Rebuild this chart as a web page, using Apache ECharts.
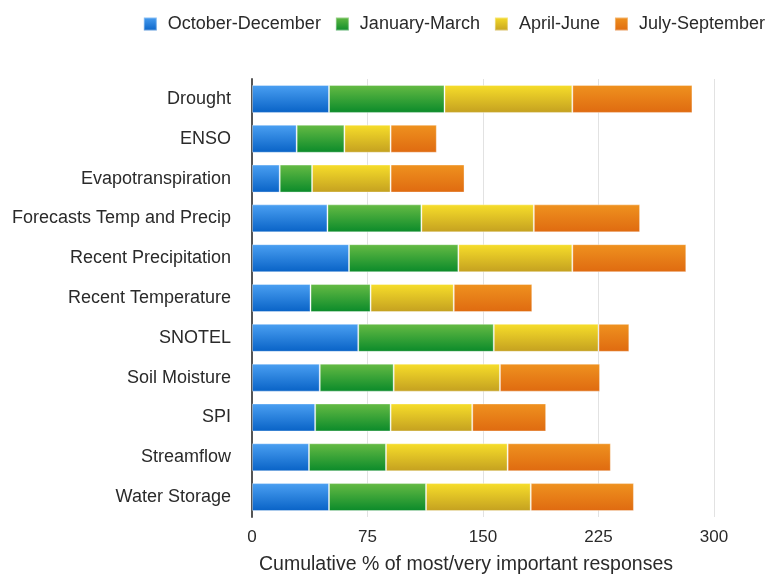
<!DOCTYPE html>
<html>
<head>
<meta charset="utf-8">
<script src="https://cdn.jsdelivr.net/npm/echarts@6/dist/echarts.min.js"></script>
<style>
  html, body { margin: 0; padding: 0; background: #fff; }
  #chart { width: 771px; height: 580px; }
</style>
</head>
<body>
<div id="chart"></div>
<script>
// Indicators, listed top to bottom
const categories = [
  'Drought', 'ENSO', 'Evapotranspiration', 'Forecasts Temp and Precip',
  'Recent Precipitation', 'Recent Temperature', 'SNOTEL', 'Soil Moisture',
  'SPI', 'Streamflow', 'Water Storage'
];

// Share of "most/very important" responses per season (%)
const octDec = [50, 29, 18, 49, 63, 38, 69, 44, 41, 37, 50];
const janMar = [75, 31, 21, 61, 71, 39, 88, 48, 49, 50, 63];
const aprJun = [83, 30, 51, 73, 74, 54, 68, 69, 53, 79, 68];
const julSep = [78, 30, 48, 69, 74, 51, 20, 65, 48, 67, 67];

const xTicks = [0, 75, 150, 225, 300];

const fontFamily = '"Liberation Sans", Arial, Helvetica, sans-serif';

function grad(top, bottom) {
  return new echarts.graphic.LinearGradient(0, 0, 0, 1, [
    { offset: 0, color: top },
    { offset: 1, color: bottom }
  ]);
}

const seriesDefs = [
  { name: 'October-December', data: octDec, top: '#4ba0f2', bottom: '#0862c6' },
  { name: 'January-March',    data: janMar, top: '#66bb44', bottom: '#0a8a2a' },
  { name: 'April-June',       data: aprJun, top: '#f7de2a', bottom: '#c4a020' },
  { name: 'July-September',   data: julSep, top: '#ef921f', bottom: '#df6a10' }
];

const chart = echarts.init(document.getElementById('chart'), null, { renderer: 'canvas' });

chart.setOption({
  animation: false,
  backgroundColor: '#ffffff',
  textStyle: { fontFamily: fontFamily },
  legend: {
    top: 10,
    right: 1,
    itemWidth: 13,
    itemHeight: 13,
    itemGap: 14,
    icon: 'rect',
    textStyle: { fontSize: 18, color: '#2a2a2a', fontFamily: fontFamily, padding: [0, 0, 0, 6] }
  },
  grid: {
    left: 252,
    right: 57,
    top: 79,
    bottom: 60,
    containLabel: false
  },
  xAxis: {
    type: 'value',
    min: xTicks[0],
    max: xTicks[xTicks.length - 1],
    interval: 75,
    name: 'Cumulative % of most/very important responses',
    nameLocation: 'middle',
    nameGap: 38,
    nameTextStyle: { fontSize: 19.5, color: '#2a2a2a', fontFamily: fontFamily, padding: [0, 34, 0, 0] },
    axisLine: { show: false },
    axisTick: { show: false },
    axisLabel: { fontSize: 17, color: '#2a2a2a', margin: 12, fontFamily: fontFamily },
    splitLine: { show: true, lineStyle: { color: '#e2e2e2', width: 1 } }
  },
  yAxis: {
    type: 'category',
    data: categories,
    inverse: true,
    axisLine: { show: true, lineStyle: { color: '#555', width: 2 } },
    axisTick: { show: false },
    axisLabel: { fontSize: 18, color: '#2a2a2a', margin: 21, fontFamily: fontFamily }
  },
  series: seriesDefs.map(s => ({
    name: s.name,
    type: 'bar',
    stack: 'total',
    barWidth: 28,
    data: s.data,
    itemStyle: {
      color: grad(s.top, s.bottom),
      borderColor: 'rgba(255,255,255,0.35)',
      borderWidth: 1
    }
  }))
});
</script>
</body>
</html>
